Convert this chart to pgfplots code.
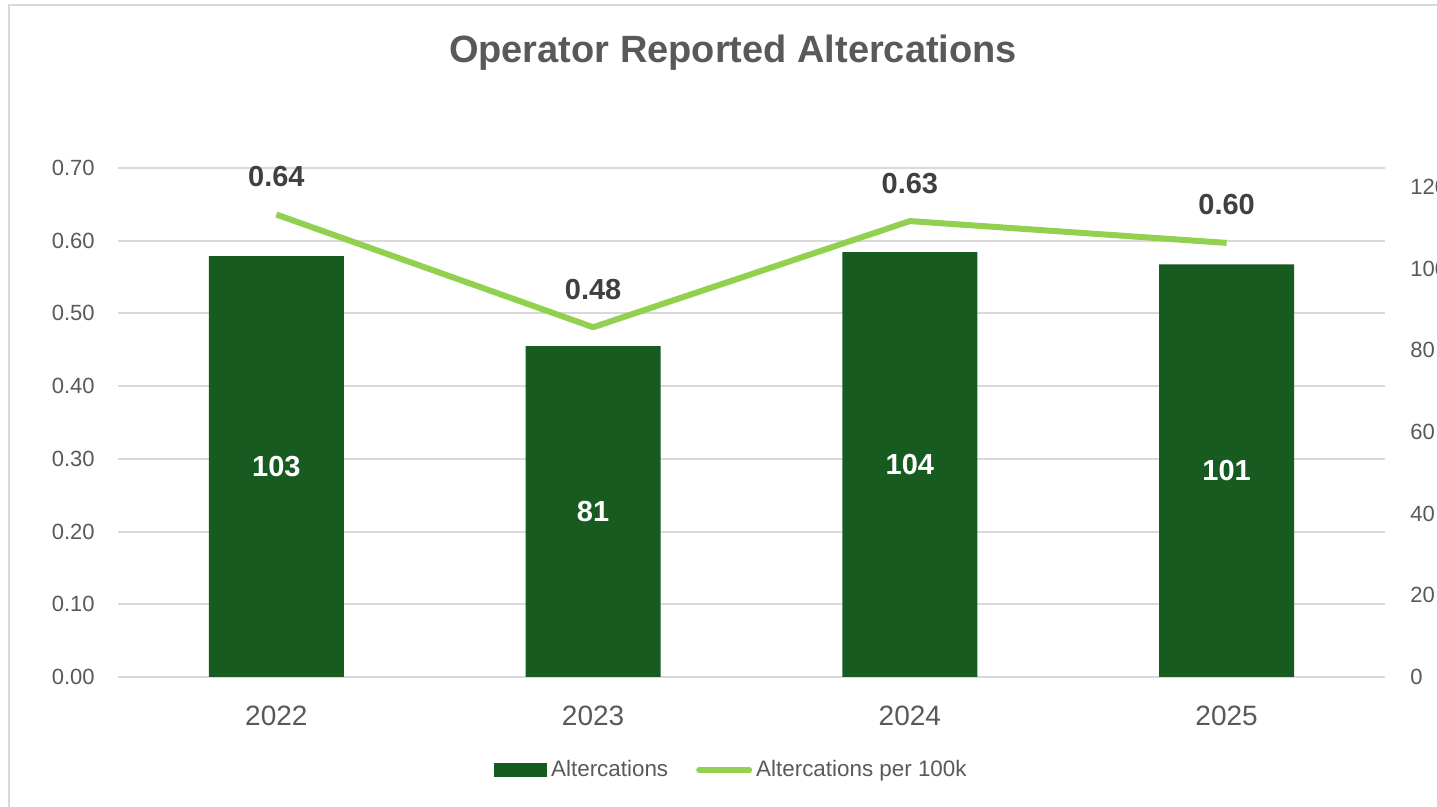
\documentclass[border=0pt]{standalone}
\usepackage{fontspec}
\setmainfont{Liberation Sans}
\usepackage{pgfplots}
\pgfplotsset{compat=1.18}
\definecolor{barcol}{HTML}{185B21}
\definecolor{linecol}{HTML}{92D050}
\definecolor{gridcol}{HTML}{D9D9D9}
\definecolor{txtcol}{HTML}{595959}
\definecolor{lblcol}{HTML}{404040}
\pgfplotsset{
  common/.style={
    width=633.5pt, height=254.5pt, scale only axis,
    xmin=-0.5, xmax=3.5,
    anchor=south west, at={(59pt,-338.5pt)},
  }
}
\begin{document}
\begin{tikzpicture}
\useasboundingbox (0pt,0pt) rectangle (718.5pt,-403.5pt);
\draw[gridcol, line width=1pt] (4.5pt,-403.5pt) -- (4.5pt,-2.5pt) -- (718.5pt,-2.5pt);
\node[font=\fontsize{19}{22}\selectfont\bfseries, text=txtcol] at (366.5pt,-26.5pt) {Operator Reported Altercations};

% grid + left axis
\begin{axis}[common,
  ymin=0, ymax=0.7,
  ytick={0,0.1,0.2,0.3,0.4,0.5,0.6,0.7},
  xtick=\empty,
  ymajorgrids, grid style={gridcol, line width=1pt},
  axis line style={draw=none}, tick style={draw=none},
  yticklabel style={font=\fontsize{11}{13}\selectfont, text=txtcol, inner sep=0pt, xshift=-11.5pt,
    /pgf/number format/.cd, fixed, fixed zerofill, precision=2, assume math mode=true},
]
\end{axis}

% bars, right axis
\begin{axis}[common,
  ymin=0, ymax=124.6,
  axis y line*=right, axis x line*=bottom,
  ytick={0,20,40,60,80,100,120},
  xtick={0,1,2,3}, xticklabels={2022,2023,2024,2025},
  axis line style={draw=none}, tick style={draw=none},
  yticklabel style={font=\fontsize{11}{13}\selectfont, text=txtcol, inner sep=0pt, xshift=12.5pt,
    /pgf/number format/assume math mode=true},
  xticklabel style={font=\fontsize{14}{16}\selectfont, text=txtcol, inner sep=0pt, yshift=-14.5pt,
    /pgf/number format/assume math mode=true},
]
\addplot[ybar, bar width=67.5pt, fill=barcol, draw=none,
  visualization depends on={y \as \rawy},
  nodes near coords,
  nodes near coords style={font=\fontsize{14.5}{16}\selectfont\bfseries, text=white, anchor=center,
    yshift=-1.02125pt*\rawy, /pgf/number format/assume math mode=true},
] coordinates {(0,103) (1,81) (2,104) (3,101)};
\end{axis}

% line
\begin{axis}[common,
  ymin=0, ymax=0.7, hide axis,
  legend style={draw=none, fill=none, font=\fontsize{11.2}{13}\selectfont, text=txtcol,
    at={(0.485,-0.183)}, anchor=center, legend columns=2,
    /tikz/every even column/.append style={column sep=12pt}},
  legend cell align=left,
]
\addlegendimage{legend image code/.code={\fill[barcol] (0pt,-3.25pt) rectangle (26pt,3.25pt);}}
\addlegendentry{Altercations}
\addplot[linecol, line width=3pt, line join=round, mark=none,
  point meta=explicit symbolic, nodes near coords,
  nodes near coords style={font=\fontsize{14.5}{16}\selectfont\bfseries, text=lblcol, anchor=center, yshift=19pt},
  legend image code/.code={\draw[linecol, line width=3pt, line cap=round] (1.5pt,0pt) -- (26.5pt,0pt);},
] coordinates {(0,0.636)[0.64] (1,0.481)[0.48] (2,0.627)[0.63] (3,0.597)[0.60]};
\addlegendentry{Altercations per 100k}
\end{axis}
\end{tikzpicture}
\end{document}
